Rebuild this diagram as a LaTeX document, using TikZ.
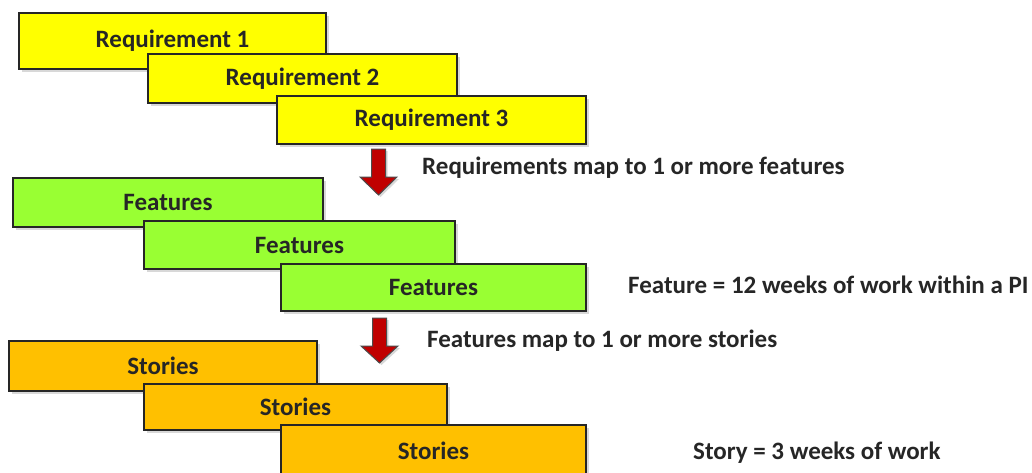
\documentclass[tikz,border=0pt]{standalone}
\usepackage{fontspec}
\setmainfont{Carlito}
\usetikzlibrary{shadows}
\definecolor{reqyellow}{HTML}{FFFF00}
\definecolor{featgreen}{HTML}{99FF33}
\definecolor{storyorange}{HTML}{FFC000}
\definecolor{arrowred}{HTML}{C00000}
\definecolor{txtgray}{HTML}{262626}
\tikzset{
  box/.style={draw=black!85, line width=1.3pt, inner sep=0pt, text=txtgray,
    font=\fontsize{25}{28}\selectfont\bfseries,
    drop shadow={opacity=0.3, shadow xshift=3pt, shadow yshift=-3pt}},
  reqbox/.style={box, fill=reqyellow},
  featbox/.style={box, fill=featgreen},
  storybox/.style={box, fill=storyorange},
  blockarrow/.style={draw=black!70, line width=1pt, fill=arrowred, line join=miter,
    drop shadow={opacity=0.3, shadow xshift=2pt, shadow yshift=-2pt}},
  note/.style={anchor=west, inner sep=0pt, text=txtgray,
    font=\fontsize{25}{28}\selectfont\bfseries}
}
\begin{document}
\begin{tikzpicture}[x=1pt, y=-1pt]
\useasboundingbox[fill=white] (0,0) rectangle (1032,472);
% Requirements
\node[reqbox, minimum width=307, minimum height=56] (r1) at (172.5,41) {Requirement 1};
\node[reqbox, minimum width=309, minimum height=49] (r2) at (302.5,78.5) {Requirement 2};
\node[reqbox, minimum width=309, minimum height=48] (r3) at (431.5,120) {Requirement 3};
% arrow 1
\coordinate (a1) at (378.5,149);
\draw[blockarrow] ([xshift=-7pt]a1) -- ([xshift=7pt]a1) -- ++(0,28) -- ++(11.5,0)
  -- ([yshift=-46pt]a1) -- ([xshift=-18.5pt,yshift=-28pt]a1) -- ++(11.5,0) -- cycle;
\node[note] (t1) at (422,168) {Requirements map to 1 or more features};
% Features
\node[featbox, minimum width=310, minimum height=49] (f1) at (168,202.5) {Features};
\node[featbox, minimum width=311, minimum height=48] (f2) at (299.5,245) {Features};
\node[featbox, minimum width=305, minimum height=47] (f3) at (433.5,287.5) {Features};
\node[note] (t2) at (628,285) {Feature = 12 weeks of work within a PI};
% arrow 2
\coordinate (a2) at (379.5,318);
\draw[blockarrow] ([xshift=-7pt]a2) -- ([xshift=7pt]a2) -- ++(0,28) -- ++(11.5,0)
  -- ([yshift=-45pt]a2) -- ([xshift=-18.5pt,yshift=-28pt]a2) -- ++(11.5,0) -- cycle;
\node[note] (t3) at (427,341) {Features map to 1 or more stories};
% Stories
\node[storybox, minimum width=308, minimum height=50] (s1) at (163,366) {Stories};
\node[storybox, minimum width=303, minimum height=46] (s2) at (295.5,407) {Stories};
\node[storybox, minimum width=305, minimum height=51] (s3) at (433.5,450.5) {Stories};
\node[note] (t4) at (693,453) {Story = 3 weeks of work};
\end{tikzpicture}
\end{document}
